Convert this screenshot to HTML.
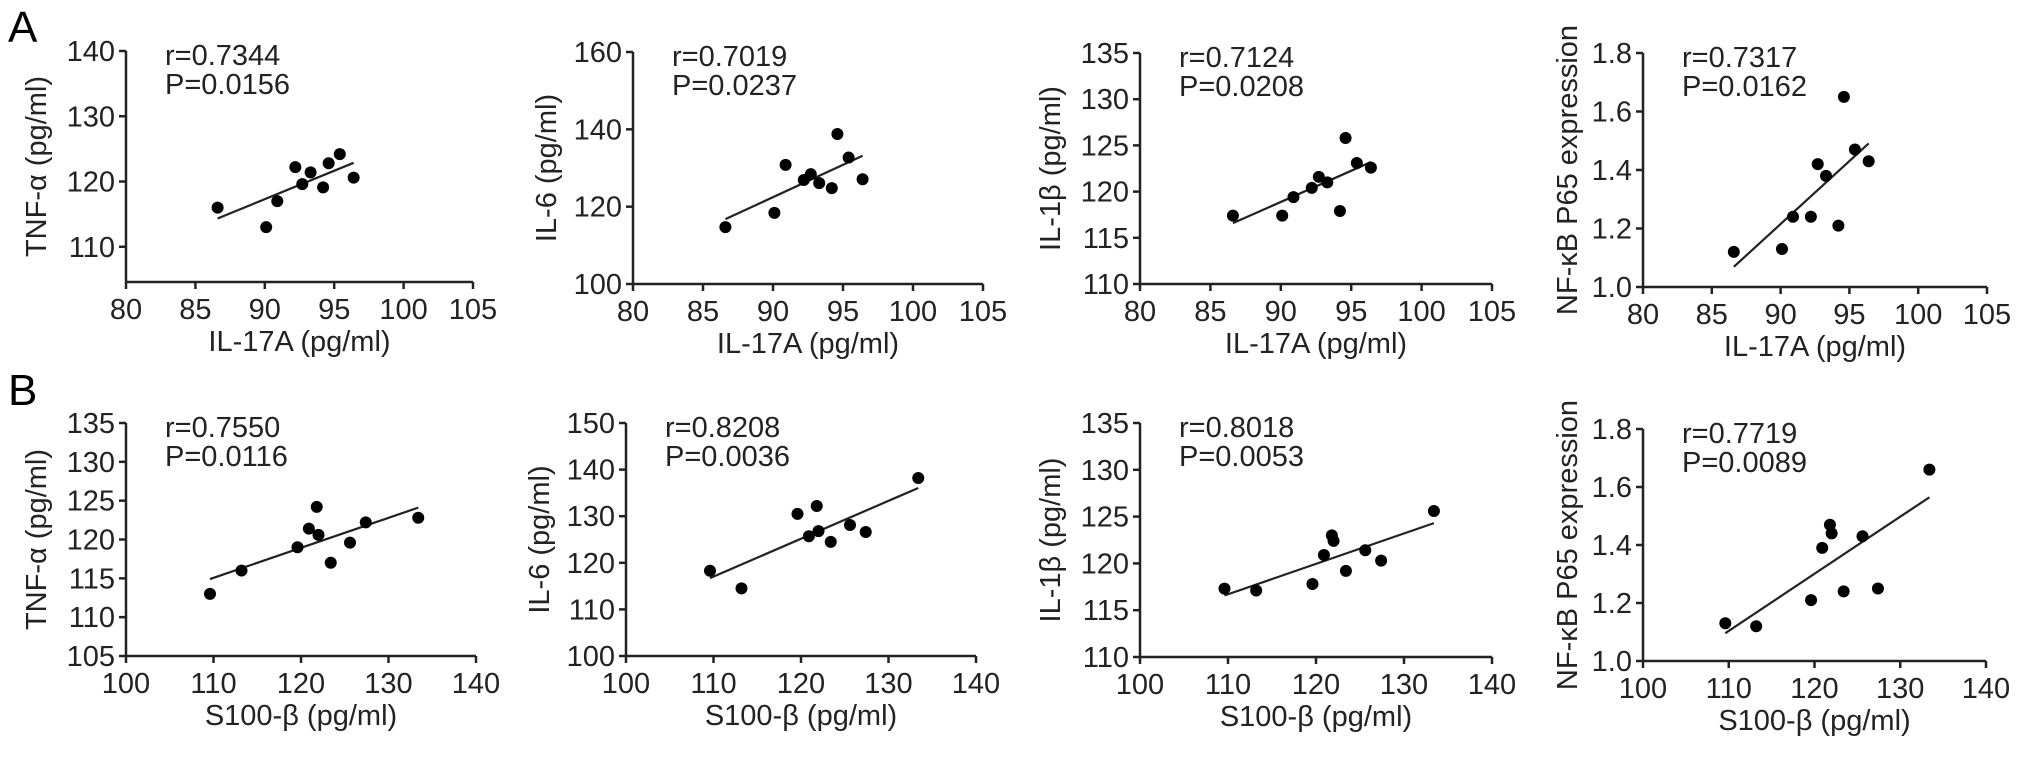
<!DOCTYPE html>
<html><head><meta charset="utf-8"><style>
html,body{margin:0;padding:0;background:#fff;}
svg{display:block;font-family:"Liberation Sans",Arial,sans-serif;}
</style></head><body>
<svg id="fig" width="2032" height="758" viewBox="0 0 2032 758" xmlns="http://www.w3.org/2000/svg">
<text x="8" y="42" font-size="44">A</text>
<text x="8" y="405" font-size="44">B</text>
</svg>
<script>
// row A: IL-17A vs markers
const il17a = [86.6, 90.1, 90.9, 92.2, 92.7, 93.3, 94.2, 94.6, 95.4, 96.4];
const tnfaA = [116.0, 113.0, 117.0, 122.2, 119.6, 121.4, 119.1, 122.8, 124.2, 120.6];
const il6A  = [114.7, 118.4, 130.8, 126.9, 128.4, 126.1, 124.8, 138.8, 132.7, 127.1];
const il1bA = [117.4, 117.4, 119.4, 120.4, 121.6, 121.0, 117.9, 125.8, 123.1, 122.6];
const nfkbA = [1.12, 1.13, 1.24, 1.24, 1.42, 1.38, 1.21, 1.65, 1.47, 1.43];
// row B: S100-beta vs markers
const s100b = [109.6, 113.2, 119.6, 120.9, 121.8, 122.0, 123.4, 125.6, 127.4, 133.4];
const tnfaB = [113.0, 116.0, 119.0, 121.4, 124.2, 120.6, 117.0, 119.6, 122.2, 122.8];
const il6B  = [118.3, 114.5, 130.5, 125.7, 132.2, 126.8, 124.5, 128.1, 126.6, 138.2];
const il1bB = [117.3, 117.1, 117.8, 120.9, 123.0, 122.4, 119.2, 121.4, 120.3, 125.6];
const nfkbB = [1.13, 1.12, 1.21, 1.39, 1.47, 1.44, 1.24, 1.43, 1.25, 1.66];
const rLabels = ["r=0.7344","r=0.7019","r=0.7124","r=0.7317","r=0.7550","r=0.8208","r=0.8018","r=0.7719"];
const pLabels = ["P=0.0156","P=0.0237","P=0.0208","P=0.0162","P=0.0116","P=0.0036","P=0.0053","P=0.0089"];
const ticksIL17 = [80,85,90,95,100,105];
const ticksS100 = [100,110,120,130,140];
const ticksTNFa = [110,120,130,140];
const ticksTNFb = [105,110,115,120,125,130,135];
const ticksIL6a = [100,120,140,160];
const ticksIL6b = [100,110,120,130,140,150];
const ticksIL1b = [110,115,120,125,130,135];
const ticksNF   = [1.0,1.2,1.4,1.6,1.8];

const NS="http://www.w3.org/2000/svg";
const svg=document.getElementById('fig');
function mk(tag,attrs,parent){const e=document.createElementNS(NS,tag);for(const k in attrs)e.setAttribute(k,attrs[k]);(parent||svg).appendChild(e);return e;}
const FS=29;
const panels=[
 {id:'a-tnf',L:126,R:473,T:51,B:282,xs:il17a,ys:tnfaA,xd:[80,105],yd:[104.6,140],xt:ticksIL17,yt:ticksTNFa,xl:'IL-17A (pg/ml)',yl:'TNF-α (pg/ml)',k:0,yo:-89,dec:0},
 {id:'a-il6',L:633,R:983,T:52,B:284,xs:il17a,ys:il6A,xd:[80,105],yd:[100,160],xt:ticksIL17,yt:ticksIL6a,xl:'IL-17A (pg/ml)',yl:'IL-6 (pg/ml)',k:1,yo:-86,dec:0},
 {id:'a-il1b',L:1140,R:1492,T:53,B:284,xs:il17a,ys:il1bA,xd:[80,105],yd:[110,135],xt:ticksIL17,yt:ticksIL1b,xl:'IL-17A (pg/ml)',yl:'IL-1β (pg/ml)',k:2,yo:-89,dec:0},
 {id:'a-nfkb',L:1643,R:1987,T:53,B:287,xs:il17a,ys:nfkbA,xd:[80,105],yd:[1.0,1.8],xt:ticksIL17,yt:ticksNF,xl:'IL-17A (pg/ml)',yl:'NF-κB P65 expression',k:3,yo:-75,dec:1},
 {id:'b-tnf',L:126,R:476,T:423,B:656,xs:s100b,ys:tnfaB,xd:[100,140],yd:[105,135],xt:ticksS100,yt:ticksTNFb,xl:'S100-β (pg/ml)',yl:'TNF-α (pg/ml)',k:4,yo:-89,dec:0},
 {id:'b-il6',L:626,R:976,T:423,B:656,xs:s100b,ys:il6B,xd:[100,140],yd:[100,150],xt:ticksS100,yt:ticksIL6b,xl:'S100-β (pg/ml)',yl:'IL-6 (pg/ml)',k:5,yo:-86,dec:0},
 {id:'b-il1b',L:1140,R:1492,T:423,B:657,xs:s100b,ys:il1bB,xd:[100,140],yd:[110,135],xt:ticksS100,yt:ticksIL1b,xl:'S100-β (pg/ml)',yl:'IL-1β (pg/ml)',k:6,yo:-89,dec:0},
 {id:'b-nfkb',L:1643,R:1986,T:429,B:661,xs:s100b,ys:nfkbB,xd:[100,140],yd:[1.0,1.8],xt:ticksS100,yt:ticksNF,xl:'S100-β (pg/ml)',yl:'NF-κB P65 expression',k:7,yo:-75,dec:1}
];

panels.forEach(p=>{
 const g=mk('g',{});
 
 
 const sx=v=>p.L+(v-p.xd[0])/(p.xd[1]-p.xd[0])*(p.R-p.L);
 const sy=v=>p.B-(v-p.yd[0])/(p.yd[1]-p.yd[0])*(p.B-p.T);
 const ytop=sy(p.yt[p.yt.length-1]);
 const ya=mk('line',{x1:p.L,y1:ytop,x2:p.L,y2:p.B,stroke:'#222','stroke-width':2.5},g);
 
 
 const xa=mk('line',{x1:p.L-1,y1:p.B,x2:p.R,y2:p.B,stroke:'#222','stroke-width':2.5},g);
 
 
 p.xt.forEach(t=>{
  const x=sx(t);
  mk('line',{x1:x,y1:p.B,x2:x,y2:p.B+7,stroke:'#222','stroke-width':2.5},g);
  const tx=mk('text',{x:x,y:p.B+37,'font-size':FS,'text-anchor':'middle',fill:'#222'},g);
  tx.textContent=t;
  
  
 });
 p.yt.forEach(t=>{
  const y=sy(t);
  mk('line',{x1:p.L-7,y1:y,x2:p.L,y2:y,stroke:'#222','stroke-width':2.5},g);
  const ty=mk('text',{x:p.L-11,y:y+10,'font-size':FS,'text-anchor':'end',fill:'#222'},g);
  ty.textContent=p.dec?t.toFixed(1):t;
  
  
 });
 const xt=mk('text',{x:(p.L+p.R)/2,y:p.B+69,'font-size':FS,'text-anchor':'middle',fill:'#222'},g);
 xt.textContent=p.xl;
 
 
 const cy=(ytop+p.B)/2, cx=p.L+p.yo;
 const yt=mk('text',{x:cx,y:cy,'font-size':FS,'text-anchor':'middle','dominant-baseline':'central',fill:'#222',transform:`rotate(-90 ${cx} ${cy})`},g);
 yt.textContent=p.yl;
 
 
 const r1=mk('text',{x:p.L+39,y:ytop+14,'font-size':FS,fill:'#222'},g);
 r1.textContent=rLabels[p.k];
 
 
 const p1=mk('text',{x:p.L+39,y:ytop+43,'font-size':FS,fill:'#222'},g);
 p1.textContent=pLabels[p.k];
 
 
 const n=p.xs.length;
 const mx=p.xs.reduce((a,b)=>a+b,0)/n, my=p.ys.reduce((a,b)=>a+b,0)/n;
 let sxy=0,sxx=0;
 for(let i=0;i<n;i++){sxy+=(p.xs[i]-mx)*(p.ys[i]-my);sxx+=(p.xs[i]-mx)**2;}
 const b=sxy/sxx, a=my-b*mx;
 const x0=Math.min(...p.xs), x1=Math.max(...p.xs);
 const rl=mk('line',{x1:sx(x0),y1:sy(a+b*x0),x2:sx(x1),y2:sy(a+b*x1),stroke:'#222','stroke-width':2.2},g);
 
 
 for(let i=0;i<n;i++){
  const c=mk('circle',{cx:sx(p.xs[i]),cy:sy(p.ys[i]),r:6,fill:'#000'},g);
  
  
 }
});
</script>
</body></html>
